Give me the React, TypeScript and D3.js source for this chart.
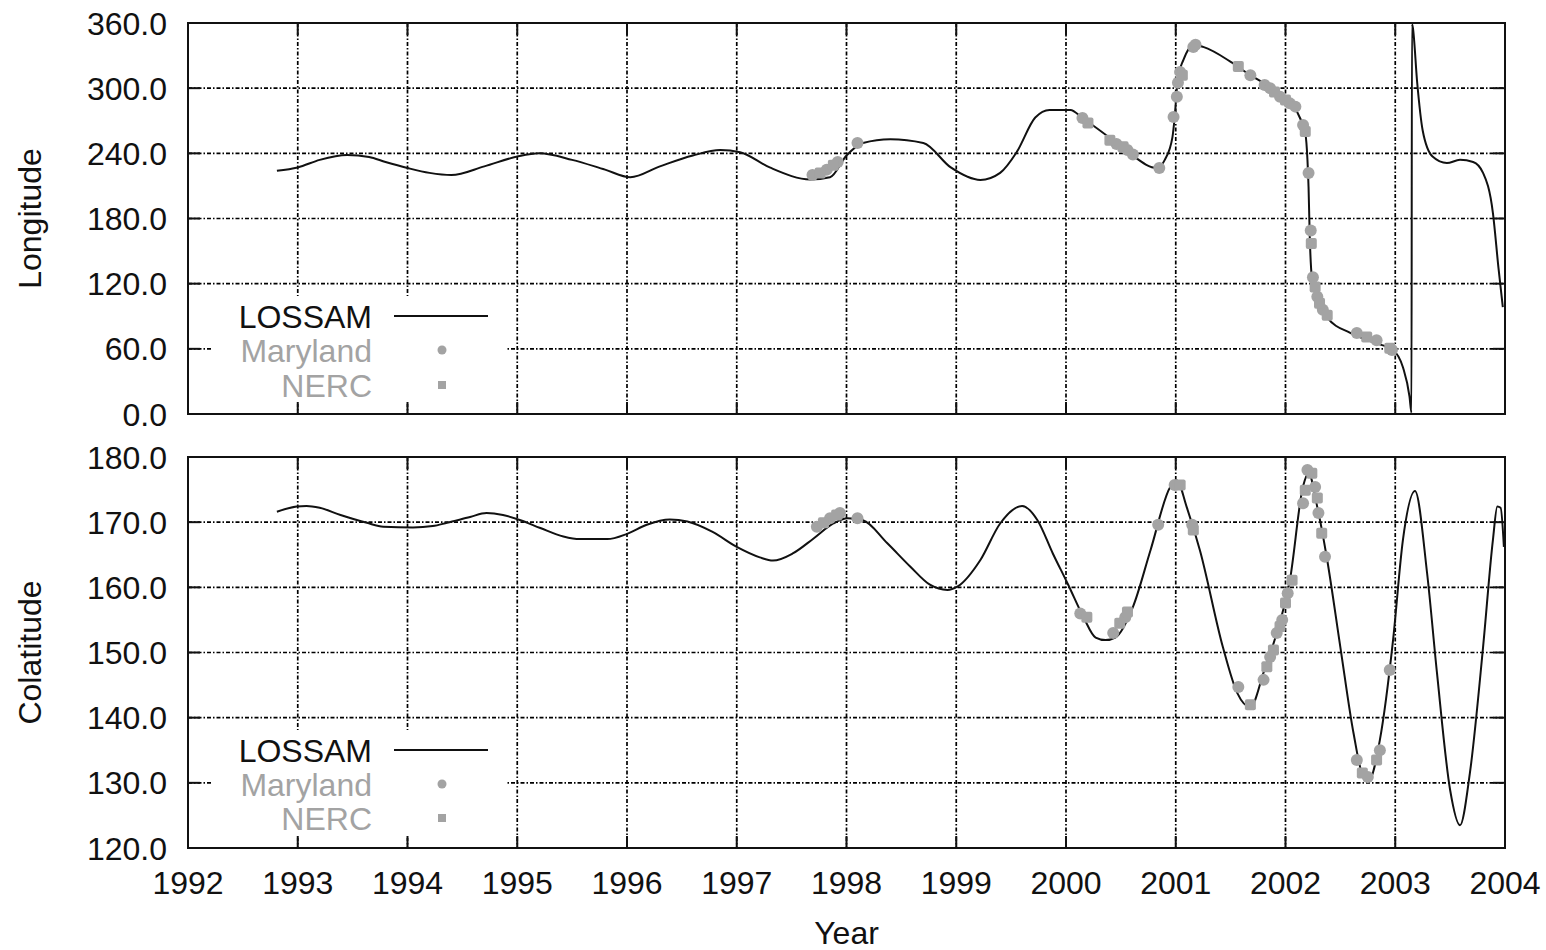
import React from "react";
import * as d3 from "d3";

// ---------- data ----------
const xTicks = [1992, 1993, 1994, 1995, 1996, 1997, 1998, 1999, 2000, 2001, 2002, 2003, 2004];
const lonTicks = [0, 60, 120, 180, 240, 300, 360];
const colatTicks = [120, 130, 140, 150, 160, 170, 180];

// LOSSAM longitude [year, degrees]
const lonLossam: [number, number][] = [
  [1992.81, 224], [1993.0, 227], [1993.2, 234], [1993.45, 238.5], [1993.65, 236.6], [1993.8, 232],
  [1994.0, 226.5], [1994.2, 222], [1994.4, 220], [1994.7, 228], [1995.0, 237], [1995.2, 240],
  [1995.5, 234], [1995.8, 225], [1996.03, 218], [1996.3, 228], [1996.6, 238], [1996.85, 243],
  [1997.03, 241], [1997.3, 227], [1997.67, 216], [1997.85, 218], [1998.0, 238], [1998.15, 249.5],
  [1998.4, 253], [1998.7, 249.5], [1998.95, 227], [1999.22, 215.5], [1999.4, 222], [1999.55, 241],
  [1999.72, 273], [1999.85, 280], [2000.04, 280], [2000.15, 272.5], [2000.46, 249.5], [2000.58, 240],
  [2000.83, 226.5], [2000.9, 234], [2000.97, 255], [2000.99, 273], [2001.02, 310], [2001.07, 326],
  [2001.16, 340], [2001.25, 338], [2001.52, 323], [2001.68, 312], [2001.83, 303], [2001.98, 292],
  [2002.13, 273], [2002.18, 259], [2002.2, 234], [2002.21, 209], [2002.22, 167], [2002.24, 126],
  [2002.29, 105], [2002.38, 89], [2002.59, 74.6], [2002.83, 65], [2002.98, 59], [2003.07, 43],
  [2003.13, 16], [2003.148, 1], [2003.152, 359], [2003.16, 356], [2003.2, 305], [2003.25, 261],
  [2003.34, 237], [2003.47, 231], [2003.59, 234], [2003.71, 232], [2003.8, 222], [2003.89, 185],
  [2003.94, 135], [2003.98, 98.5],
];

const lonMaryland: [number, number][] = [
  [1997.69, 220], [1997.82, 225], [1997.92, 232], [1998.1, 249.5],
  [2000.15, 272.5], [2000.46, 248.6], [2000.56, 243], [2000.61, 239], [2000.85, 226.5],
  [2000.98, 273.5], [2001.01, 292], [2001.02, 305], [2001.04, 315], [2001.16, 338], [2001.18, 340],
  [2001.68, 312], [2001.81, 303], [2001.86, 300], [2001.95, 292], [2002.04, 286], [2002.09, 283],
  [2002.16, 266], [2002.21, 222], [2002.23, 169], [2002.25, 126], [2002.29, 108], [2002.34, 96],
  [2002.65, 74.6], [2002.83, 68], [2002.97, 59],
];
const lonNerc: [number, number][] = [
  [1997.76, 222], [1997.88, 229], [2000.2, 268], [2000.4, 252], [2000.52, 246], [2001.06, 312],
  [2001.57, 320], [2001.9, 296.5], [2002.0, 289], [2002.18, 260], [2002.235, 157], [2002.27, 117],
  [2002.31, 102], [2002.38, 91], [2002.74, 71], [2002.95, 60.6],
];

// LOSSAM colatitude [year, degrees]
const colatLossam: [number, number][] = [
  [1992.81, 171.6], [1992.99, 172.4], [1993.08, 172.5], [1993.2, 172.2], [1993.39, 171.1], [1993.63, 169.9],
  [1993.78, 169.3], [1994.05, 169.2], [1994.23, 169.4], [1994.36, 169.9], [1994.57, 170.8], [1994.72, 171.4],
  [1994.87, 171.1], [1995.03, 170.3], [1995.21, 169.1], [1995.42, 167.8], [1995.57, 167.4], [1995.82, 167.4],
  [1996.0, 168.2], [1996.18, 169.6], [1996.39, 170.4], [1996.55, 170.1], [1996.78, 168.5], [1997.0, 166.2],
  [1997.21, 164.6], [1997.33, 164.1], [1997.51, 165.2], [1997.7, 167.5], [1997.88, 169.8], [1998.01, 170.6],
  [1998.15, 170.3], [1998.37, 166.8], [1998.58, 163.2], [1998.76, 160.4], [1998.92, 159.6], [1999.01, 160.1],
  [1999.22, 164.2], [1999.4, 169.8], [1999.6, 172.5], [1999.74, 170.3], [1999.88, 165.2], [2000.02, 160.4],
  [2000.16, 155.4], [2000.27, 152.3], [2000.36, 151.9], [2000.45, 152.3], [2000.61, 157], [2000.77, 165.7],
  [2000.95, 175.4], [2001.01, 176.4], [2001.1, 172.3], [2001.22, 165.7], [2001.43, 150.8], [2001.56, 143.8],
  [2001.68, 141.6], [2001.8, 146.9], [2001.92, 153], [2002.04, 161.1], [2002.16, 175.5], [2002.21, 177.5],
  [2002.29, 172.3], [2002.38, 164.2], [2002.5, 150.8], [2002.62, 137.6], [2002.71, 130.9], [2002.76, 130.4],
  [2002.86, 136.6], [2002.98, 151.9], [2003.07, 167.3], [2003.18, 174.8], [2003.29, 162.2], [2003.38, 146.9],
  [2003.5, 128.9], [2003.59, 123.5], [2003.68, 131.5], [2003.8, 150.8], [2003.89, 167.3], [2003.93, 172.4],
  [2003.96, 172.2], [2003.99, 166.2],
];

const colatMaryland: [number, number][] = [
  [1997.73, 169.3], [1997.85, 170.6], [1997.94, 171.4], [1998.1, 170.6],
  [2000.13, 156], [2000.43, 153], [2000.54, 155.4], [2000.84, 169.6], [2000.99, 175.7],
  [2001.15, 169.6], [2001.57, 144.7], [2001.8, 145.8], [2001.86, 149.3], [2001.92, 153],
  [2001.97, 155], [2002.02, 159.1], [2002.16, 172.9], [2002.2, 178], [2002.27, 175.4],
  [2002.3, 171.4], [2002.36, 164.7], [2002.65, 133.5], [2002.75, 130.9], [2002.86, 135], [2002.95, 147.3],
];
const colatNerc: [number, number][] = [
  [1997.79, 169.9], [1997.91, 171.1], [2000.19, 155.4], [2000.49, 154.5], [2000.56, 156.2],
  [2001.04, 175.7], [2001.16, 168.8], [2001.68, 142], [2001.83, 147.8], [2001.89, 150.4],
  [2001.95, 154], [2002.0, 157.6], [2002.06, 161.1], [2002.18, 174.9], [2002.24, 177.5],
  [2002.29, 173.7], [2002.33, 168.3], [2002.7, 131.5], [2002.83, 133.5],
];

// ---------- layout ----------
const W = 1546;
const H = 950;
const X0 = 188;
const X1 = 1505;
const FONT = "'Liberation Sans', Arial, Helvetica, sans-serif";
const FS = 32;
const GRAY = "#a3a3a3";

const x = d3.scaleLinear().domain([1992, 2004]).range([X0, X1]);
const yLon = d3.scaleLinear().domain([0, 360]).range([414, 23]);
const yCol = d3.scaleLinear().domain([120, 180]).range([848, 457]);

type Panel = {
  y: d3.ScaleLinear<number, number>;
  ticks: number[];
  label: string;
  line: [number, number][];
  maryland: [number, number][];
  nerc: [number, number][];
  legendTop: number;
  legendRows: number[];
};

const panels: Panel[] = [
  { y: yLon, ticks: lonTicks, label: "Longitude", line: lonLossam, maryland: lonMaryland, nerc: lonNerc, legendTop: 296, legendRows: [316, 350, 385] },
  { y: yCol, ticks: colatTicks, label: "Colatitude", line: colatLossam, maryland: colatMaryland, nerc: colatNerc, legendTop: 730, legendRows: [750, 784, 818] },
];

function PanelView({ p, idx }: { p: Panel; idx: number }) {
  const [yBot, yTop] = p.y.range();
  const lineGen = d3
    .line<[number, number]>()
    .x((d) => x(d[0]))
    .y((d) => p.y(d[1]))
    .curve(d3.curveMonotoneX);
  const tl = 12;
  const legendX0 = 212;
  const legendX1 = 506;
  return (
    <g>
      {/* grid */}
      <g stroke="#000" strokeWidth={1.7} strokeDasharray="4 2 1.5 2" fill="none">
        {xTicks.slice(1, -1).map((t) => (
          <line key={"gx" + t} x1={x(t)} x2={x(t)} y1={yTop} y2={yBot} />
        ))}
        {p.ticks.slice(1, -1).map((t) => (
          <line key={"gy" + t} x1={X0} x2={X1} y1={p.y(t)} y2={p.y(t)} />
        ))}
      </g>
      {/* legend background */}
      <rect x={legendX0} y={p.legendTop} width={legendX1 - legendX0} height={yBot - p.legendTop - 10} fill="#fff" />
      {/* LOSSAM curve */}
      <path d={lineGen(p.line) || ""} fill="none" stroke="#111" strokeWidth={2} strokeLinejoin="round" />
      {/* data points */}
      <g fill={GRAY}>
        {p.maryland.map((d, i) => (
          <circle key={"m" + i} cx={x(d[0])} cy={p.y(d[1])} r={6} />
        ))}
        {p.nerc.map((d, i) => (
          <rect key={"n" + i} x={x(d[0]) - 5.5} y={p.y(d[1]) - 5.5} width={11} height={11} rx={2} />
        ))}
      </g>
      {/* ticks */}
      <g stroke="#111" strokeWidth={2}>
        {xTicks.slice(1, -1).map((t) => (
          <g key={"tx" + t}>
            <line x1={x(t)} x2={x(t)} y1={yBot} y2={yBot - tl} />
            <line x1={x(t)} x2={x(t)} y1={yTop} y2={yTop + tl} />
          </g>
        ))}
        {p.ticks.slice(1, -1).map((t) => (
          <g key={"ty" + t}>
            <line x1={X0} x2={X0 + tl} y1={p.y(t)} y2={p.y(t)} />
            <line x1={X1} x2={X1 - tl} y1={p.y(t)} y2={p.y(t)} />
          </g>
        ))}
      </g>
      {/* frame */}
      <rect x={X0} y={yTop} width={X1 - X0} height={yBot - yTop} fill="none" stroke="#111" strokeWidth={2} />
      {/* y tick labels */}
      <g fontFamily={FONT} fontSize={FS} fill="#111" textAnchor="end">
        {p.ticks.map((t) => (
          <text key={"ly" + t} x={167} y={p.y(t)} dy="0.36em">
            {t.toFixed(1)}
          </text>
        ))}
      </g>
      {/* y axis title */}
      <text
        transform={`translate(41,${(yTop + yBot) / 2}) rotate(-90)`}
        textAnchor="middle"
        fontFamily={FONT}
        fontSize={FS}
        fill="#111"
      >
        {p.label}
      </text>
      {/* legend */}
      <g fontFamily={FONT} fontSize={FS} textAnchor="end">
        <text x={372} y={p.legendRows[0]} dy="0.36em" fill="#111">LOSSAM</text>
        <line x1={394} x2={488} y1={p.legendRows[0]} y2={p.legendRows[0]} stroke="#111" strokeWidth={2} />
        <text x={372} y={p.legendRows[1]} dy="0.36em" fill={GRAY}>Maryland</text>
        <circle cx={442} cy={p.legendRows[1]} r={4.5} fill={GRAY} />
        <text x={372} y={p.legendRows[2]} dy="0.36em" fill={GRAY}>NERC</text>
        <rect x={438} y={p.legendRows[2] - 4} width={8} height={8} fill={GRAY} />
      </g>
      {idx === 1 && (
        <g fontFamily={FONT} fontSize={FS} fill="#111" textAnchor="middle">
          {xTicks.map((t) => (
            <text key={"lx" + t} x={x(t)} y={894}>
              {t}
            </text>
          ))}
          <text x={(X0 + X1) / 2} y={944}>Year</text>
        </g>
      )}
    </g>
  );
}

export default function App() {
  return (
    <svg
      width={W}
      height={H}
      viewBox={`0 0 ${W} ${H}`}
      style={{ position: "absolute", left: 0, top: 0, background: "#fff" }}
    >
      <rect width={W} height={H} fill="#fff" />
      {panels.map((p, i) => (
        <PanelView key={i} p={p} idx={i} />
      ))}
    </svg>
  );
}
